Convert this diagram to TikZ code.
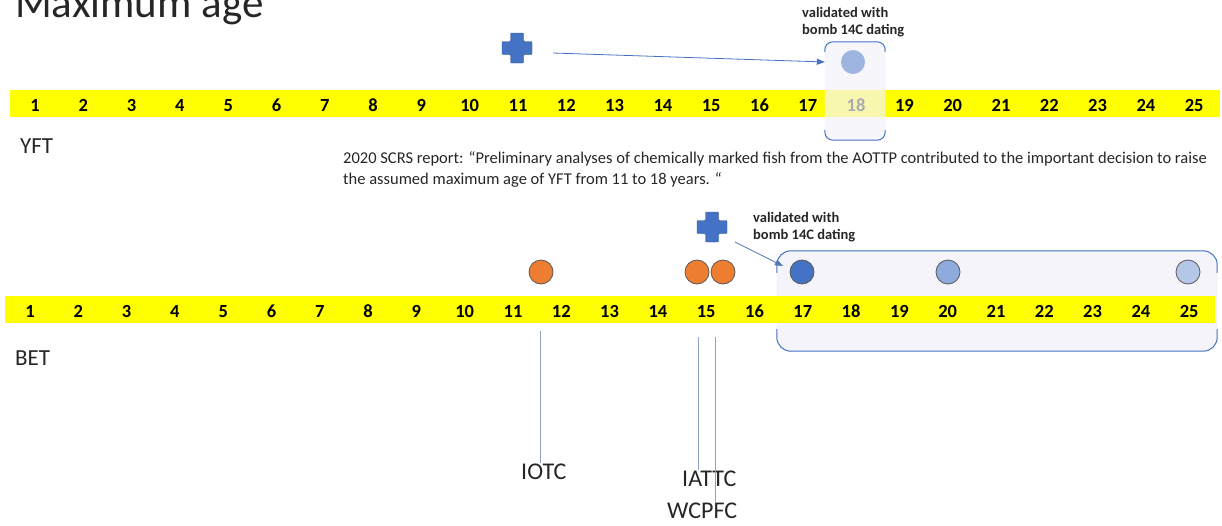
\documentclass[tikz,border=0pt]{standalone}
\usepackage{fontspec}
\setmainfont{Carlito}
\usepackage{tikz}
\usetikzlibrary{positioning,arrows.meta}
\definecolor{stripyellow}{RGB}{255,255,0}
\definecolor{accentblue}{RGB}{68,114,196}
\definecolor{midblue}{RGB}{143,170,220}
\definecolor{paleblue}{RGB}{180,199,231}
\definecolor{fishorange}{RGB}{237,125,49}
\definecolor{boxfill}{RGB}{244,244,250}
\definecolor{tagline}{RGB}{143,163,200}
\definecolor{darktext}{RGB}{38,38,38}
\tikzset{
num/.style={font=\bfseries\fontsize{18.5}{18.5}\selectfont, inner sep=0pt, anchor=base},
lbl/.style={font=\fontsize{23}{23}\selectfont, text=darktext, inner sep=0pt, anchor=base west},
note/.style={font=\bfseries\fontsize{14.5}{17}\selectfont, text=darktext, inner sep=0pt, anchor=north west, align=left},
dot/.style={circle, minimum size=24pt, inner sep=0pt, draw=black!65, line width=0.8pt},
crossnode/.style={minimum size=30pt, inner sep=0pt},
crossmark/.pic={\fill[accentblue, draw=accentblue!75!black, line width=0.4pt, rounded corners=1pt]
 (-6.5,-15) -- (6.5,-15) -- (6.5,-6.5) -- (15,-6.5) -- (15,6.5) -- (6.5,6.5) -- (6.5,15)
 -- (-6.5,15) -- (-6.5,6.5) -- (-15,6.5) -- (-15,-6.5) -- (-6.5,-6.5) -- cycle;},
pointer/.style={line width=0.8pt, -{Triangle[length=8pt,width=6pt]}},
}
\begin{document}
\begin{tikzpicture}[x=1pt,y=1pt,yscale=-1,xscale=1]
\useasboundingbox (0,0) rectangle (1222,525);

% Title
\node[lbl, font=\fontsize{43}{43}\selectfont] (title) at (15,17) {Maximum age};

%Shape: BET box (behind the strip)
\node[fill=boxfill, draw=black!8, rounded corners=14pt, minimum width=440pt, minimum height=100pt, inner sep=0pt] (betBox) at (997,301) {};
\draw[accentblue, line width=1pt, rounded corners=14pt] (betBox.north west) ++(0,22) |- (betBox.north east) -- ++(0,22);
\draw[accentblue, line width=1pt, rounded corners=14pt] (betBox.south west) ++(0,-22) |- (betBox.south east) -- ++(0,-22);

%Shape: strips
\node[fill=stripyellow, minimum width=1210pt, minimum height=27pt, inner sep=0pt, anchor=north west] (yftBar) at (10,90) {};
\node[fill=stripyellow, minimum width=1210pt, minimum height=27pt, inner sep=0pt, anchor=north west] (betBar) at (5,296) {};
\foreach \k in {1,...,25} {
  \node[num] (yn\k) at ({35+(\k-1)*48.3},111) {\k};
  \node[num] (bn\k) at ({30+(\k-1)*48.3},317) {\k};
}

%Shape: YFT box (over the strip)
\node[fill=boxfill, fill opacity=0.7, draw=black!8, rounded corners=8pt, minimum width=60pt, minimum height=98pt, inner sep=0pt] (yftBox) at (855,91) {};
\draw[accentblue, line width=1pt, rounded corners=8pt] (yftBox.north west) ++(0,10) |- (yftBox.north east) -- ++(0,10);
\draw[accentblue, line width=1pt, rounded corners=8pt] (yftBox.south west) ++(0,-10) |- (yftBox.south east) -- ++(0,-10);

% Species labels
\node[lbl] (yft) at (20,153) {YFT};
\node[lbl] (bet) at (15,365) {BET};

% YFT markers
\node[crossnode] (yftCross) at (517,48) {};
\pic at (yftCross) {crossmark};
\node[circle, minimum size=24pt, inner sep=0pt, fill=midblue, fill opacity=0.85] (ydot) at (853,62) {};
\coordinate (yftTail) at (553,53);
\draw[pointer, accentblue] (yftTail) -- (yftBox.west |- ydot);
\node[note] (yftNote) at (802,7) {validated with\\bomb 14C dating};

% Text Node
\node[font=\fontsize{16.5}{21}\selectfont, text=darktext, inner sep=0pt, anchor=north west, align=left] (report) at (343,151)
 {2020 SCRS report: “Preliminary analyses of chemically marked fish from the AOTTP contributed to the important decision to raise\\the assumed maximum age of YFT from 11 to 18 years. “};

% BET markers
\node[crossnode] (betCross) at (712,227) {};
\pic at (betCross) {crossmark};
\node[note] (betNote) at (753,212) {validated with\\bomb 14C dating};
\coordinate (betTail) at (735,242);
\coordinate (betHead) at (783,266);
\draw[pointer, accentblue!80!gray] (betTail) -- (betHead);

\node[dot, fill=fishorange] (bdotIotc) at (541,272) {};
\node[dot, fill=fishorange] (bdotIattc) at (697,272) {};
\node[dot, fill=fishorange] (bdotWcpfc) at (723,272) {};
\node[dot, fill=accentblue] (bdotA) at (802,272) {};
\node[dot, fill=midblue] (bdotB) at (948,272) {};
\node[dot, fill=paleblue] (bdotC) at (1188,272) {};

% Agencies
\node[lbl, font=\fontsize{24}{24}\selectfont] (iotc) at (521,479) {IOTC};
\node[lbl, font=\fontsize{24}{24}\selectfont] (iattc) at (682,486) {IATTC};
\node[lbl, font=\fontsize{24}{24}\selectfont] (wcpfc) at (667,518) {WCPFC};
\coordinate (iotcTop) at (540,331);
\coordinate (iattcTop) at (698,337);
\coordinate (wcpfcTop) at (715,337);
\draw[tagline, line width=1pt] (iotcTop) -- (iotcTop |- iotc.north);
\draw[tagline, line width=1pt] (iattcTop) -- (iattcTop |- iattc.north);
\draw[tagline, line width=1pt] (wcpfcTop) -- (wcpfcTop |- wcpfc.north);
\end{tikzpicture}
\end{document}
